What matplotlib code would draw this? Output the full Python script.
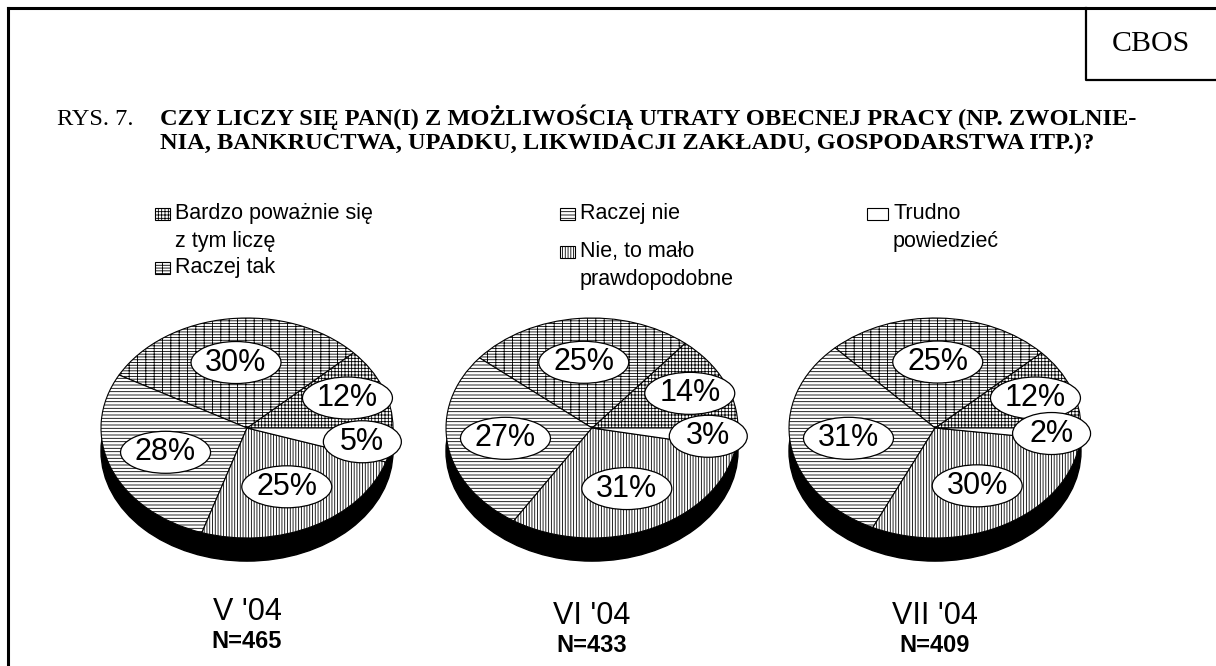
import numpy as np
import matplotlib.pyplot as plt
from matplotlib.patches import Ellipse, Rectangle

plt.rcParams['font.family'] = ['Liberation Sans', 'DejaVu Sans']
plt.rcParams['hatch.linewidth'] = 0.6

# data
categories = ['Bardzo poważnie się\nz tym liczę', 'Raczej tak', 'Raczej nie',
              'Nie, to mało\nprawdopodobne', 'Trudno\npowiedzieć']
periods = ["V '04", "VI '04", "VII '04"]
sample_n = [465, 433, 409]
wave_v = [12, 30, 28, 25, 5]
wave_vi = [14, 25, 27, 31, 3]
wave_vii = [12, 25, 31, 30, 2]
waves = [wave_v, wave_vi, wave_vii]

hatches = ['+++++', '------||', '-----', '||||||', '']

W, H = 1216, 666
fig = plt.figure(figsize=(W / 100, H / 100), dpi=100)
bg = fig.add_axes([0, 0, 1, 1])
bg.set_xlim(0, W)
bg.set_ylim(H, 0)
bg.axis('off')

# frame + CBOS box
bg.plot([8, W], [8, 8], color='black', lw=2.2)
bg.plot([8, 8], [8, H], color='black', lw=2.2)
bg.plot([1086, 1086, W], [8, 80, 80], color='black', lw=1.6)
bg.text(1151, 44, 'CBOS', family='Liberation Serif', fontsize=21.5, ha='center', va='center')

# title
tfs = 17.6
bg.text(57, 125, 'RYS. 7.', family='Liberation Serif', fontsize=tfs, va='baseline')
bg.text(160, 125, 'CZY LICZY SIĘ PAN(I) Z MOŻLIWOŚCIĄ UTRATY OBECNEJ PRACY (NP. ZWOLNIE-',
        family='Liberation Serif', fontsize=tfs, fontweight='bold', va='baseline')
bg.text(160, 149, 'NIA, BANKRUCTWA, UPADKU, LIKWIDACJI ZAKŁADU, GOSPODARSTWA ITP.)?',
        family='Liberation Serif', fontsize=tfs, fontweight='bold', va='baseline')

# legend (drawn by hand, three columns)
leg_pos = [(155, 214), (155, 268), (560, 214), (560, 252), (867, 214)]
for lab, hat, (lx, ly) in zip(categories, hatches, leg_pos):
    w = 21 if hat == '' else 15
    bg.add_patch(Rectangle((lx, ly - 6), w, 12, facecolor='white', edgecolor='black',
                           hatch=hat, lw=0.8))
    bg.text(lx + w + 5, ly - 11, lab, fontsize=15.5, va='top', linespacing=1.45)

# pies
centers = [247, 592, 935]
cy = 428
rx, ry = 146, 110
depth = 0.21
x0, x1, y0, y1 = -1.35, 1.35, -1.4, 1.2
label_y = [612, 616, 616]

for cx, vals, per, n, ly in zip(centers, waves, periods, sample_n, label_y):
    ax = fig.add_axes([(cx + x0 * rx) / W, 1 - (cy - y0 * ry) / H,
                       (x1 - x0) * rx / W, (y1 - y0) * ry / H])
    wedges, _, autotexts = ax.pie(vals, startangle=0, counterclock=True,
                                  colors=['white'] * len(vals), autopct='%.0f%%',
                                  wedgeprops=dict(edgecolor='black', linewidth=0.8),
                                  textprops=dict(fontsize=22))
    ax.set_aspect('auto')
    ax.set_xlim(x0, x1)
    ax.set_ylim(y0, y1)
    ax.add_patch(Ellipse((0, -depth), 2, 2, facecolor='black', edgecolor='black', zorder=0))
    for wdg, hat, v, t in zip(wedges, hatches, vals, autotexts):
        wdg.set_hatch(hat)
        th = np.deg2rad((wdg.theta1 + wdg.theta2) / 2)
        r = 0.6 if v >= 20 else (0.74 if v >= 10 else 0.8)
        px, py = r * np.cos(th), r * np.sin(th)
        t.set_position((px, py))
        t.set_zorder(5)
        ew = 90 if v >= 10 else 78
        ax.add_patch(Ellipse((px, py), ew / rx, 42 / ry, facecolor='white',
                             edgecolor='black', lw=0.9, zorder=4))
    bg.text(cx, ly, per, fontsize=22, ha='center', va='center')
    bg.text(cx, ly + 29, 'N=%d' % n, fontsize=17, fontweight='bold', ha='center', va='center')

fig.savefig('out.png', dpi=100)
